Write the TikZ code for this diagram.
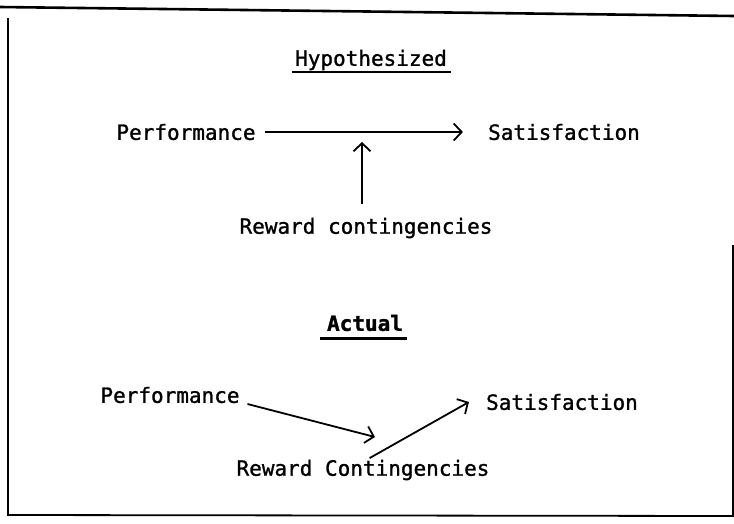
\documentclass[tikz,border=0pt]{standalone}
\usepackage{fontspec}
\setmonofont[FakeBold=1.2, BoldFont={DejaVu Sans Mono Bold}, BoldFeatures={FakeBold=1.5}]{DejaVu Sans Mono}
\usetikzlibrary{arrows.meta}

\tikzset{
  label/.style={inner sep=0pt},
  link/.style={line width=1.8pt, -{Straight Barb[length=8pt, width=17pt, line width=1.8pt]}},
  uline/.style={line width=1.6pt}
}

\begin{document}
\begin{tikzpicture}[x=1pt, y=-1pt, font=\ttfamily\fontsize{21}{25}\selectfont]
  \useasboundingbox (0,0) rectangle (734,523);
  % frame, open at the upper right
  \draw[line width=2.6pt] (0,7) -- (734,16);
  \draw[line width=1.8pt] (8,18) -- (8,515) -- (734,516);
  \draw[line width=1.5pt] (733,245) -- (733,516);

  % hypothesized
  \node[label] (hyp) at (371,60) {Hypothesized};
  \draw[uline] ([xshift=-3pt, yshift=-6.5pt]hyp.base west) -- ([xshift=4pt, yshift=-6.5pt]hyp.base east);
  \node[label] (perfA) at (186,132) {Performance};
  \node[label] (satA) at (564,132) {Satisfaction};
  \node[label] (rewA) at (366,228) {Reward contingencies};
  \coordinate (joinA) at (362,142);
  \draw[link, shorten <=9pt, shorten >=25pt] (perfA.east) -- (satA.west);
  \draw[link, shorten <=14pt] (rewA.north -| joinA) -- (joinA);

  % actual
  \node[label, font=\ttfamily\bfseries\fontsize{21}{25}\selectfont] (act) at (365,323) {Actual};
  \draw[uline, line width=2.6pt] ([xshift=-7pt, yshift=-7.5pt]act.base west) -- ([xshift=4pt, yshift=-7.5pt]act.base east);
  \node[label] (perfB) at (170,395) {Performance};
  \node[label] (satB) at (562,402) {Satisfaction};
  \node[label] (rewB) at (363,470) {Reward Contingencies};
  \coordinate (tipB) at (375,437);
  \draw[link, shorten <=8pt] ([yshift=-7pt]perfB.east) -- (tipB);
  \draw[link, shorten <=3pt] ([xshift=4pt]rewB.north) -- ([xshift=-17pt]satB.west);
\end{tikzpicture}
\end{document}
